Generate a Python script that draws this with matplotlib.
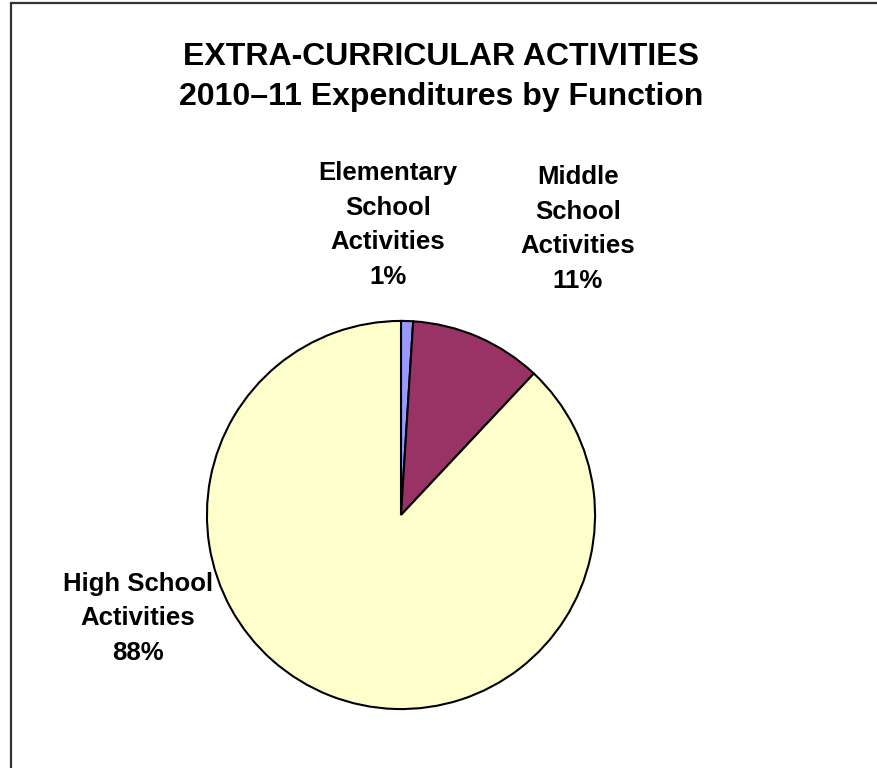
import matplotlib.pyplot as plt
from matplotlib.patches import Rectangle

plt.rcParams['font.family'] = ['Liberation Sans', 'DejaVu Sans']

# Extra-curricular spending shares, 2010-11
categories = ["Elementary\nSchool\nActivities", "Middle\nSchool\nActivities", "High School\nActivities"]
shares = [1, 11, 88]
colors = ["#9999FF", "#993366", "#FFFFCC"]

W, H = 877, 768
fig = plt.figure(figsize=(W / 100, H / 100), dpi=100)

# frame around the chart area (runs off the right and bottom edge)
fig.patches.append(Rectangle((11 / W, -0.1), 1.2, 1 - 3 / H + 0.1, transform=fig.transFigure,
                             fill=False, edgecolor="#333333", linewidth=1.6))

# pie centered at (401, 515) px with radius 196 px
cx, cy, r = 401, 515, 196
ax = fig.add_axes([(cx - r) / W, (H - cy - r) / H, 2 * r / W, 2 * r / H])
ax.pie(shares, colors=colors, startangle=90, counterclock=False, radius=1,
       wedgeprops=dict(edgecolor="black", linewidth=1.5))
ax.set_xlim(-1.01, 1.01)
ax.set_ylim(-1.01, 1.01)
ax.set_aspect("equal")
ax.axis("off")

# y is the baseline of the last line, in px from the top
fig.text(441 / W, 1 - 105 / H, "EXTRA-CURRICULAR ACTIVITIES\n2010\u201311 Expenditures by Function",
         ha="center", va="baseline", fontsize=23, fontweight="bold", linespacing=1.43)

label_pos = [(388, 284), (578, 288), (138, 660)]
for name, val, (px, py) in zip(categories, shares, label_pos):
    fig.text(px / W, 1 - py / H, f"{name}\n{val}%", ha="center", va="baseline",
             fontsize=18.5, fontweight="bold", linespacing=1.56)

fig.savefig("out.png", dpi=100)
